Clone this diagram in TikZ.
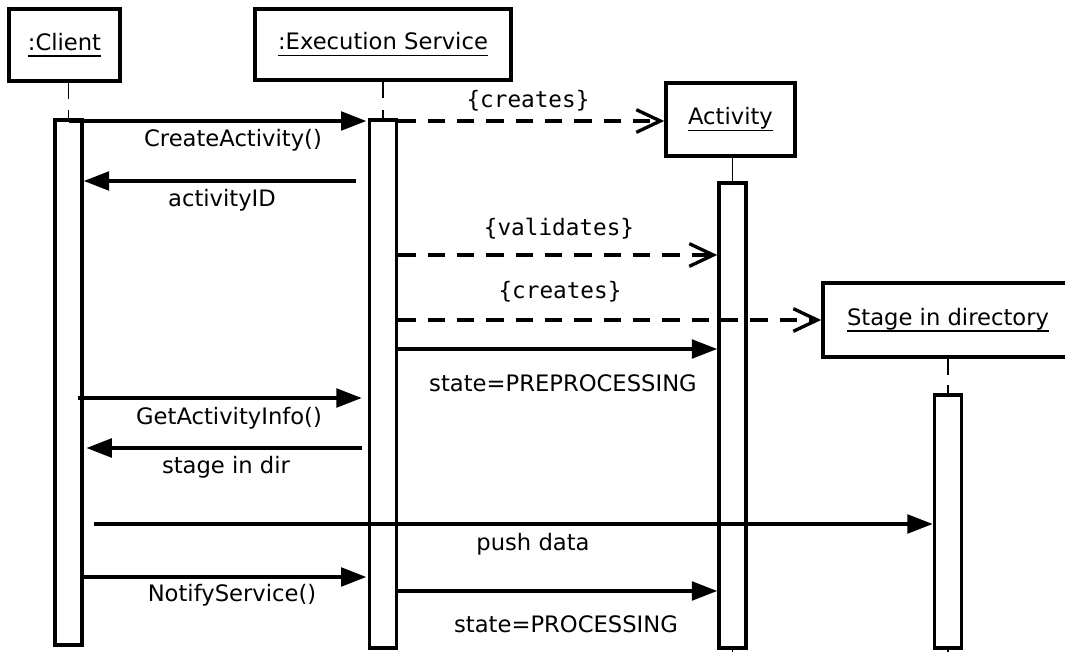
\documentclass[tikz,border=0pt]{standalone}
\usepackage{fontspec}
\setmainfont{DejaVu Sans}
\setmonofont{DejaVu Sans Mono}
\usetikzlibrary{arrows.meta}
\newcommand\ulbox[1]{\sbox0{#1}\rlap{\rule[-5pt]{\wd0}{1.2pt}}\usebox0}
\begin{document}
\begin{tikzpicture}[x=0.75pt,y=-0.75pt,
  font=\fontsize{17}{20}\selectfont,
  head/.style={draw, line width=2.7pt, inner sep=0pt, fill=white},
  bar/.style={draw, line width=2.7pt, inner sep=0pt, minimum width=20.25pt, fill=white},
  life/.style={line width=1.3pt},
  msg/.style={line width=2.5pt, -{Triangle[length=19pt,width=14pt]}},
  dep/.style={line width=2.5pt, dash pattern=on 13pt off 9pt, -{Straight Barb[length=18pt,width=17pt,line width=2.5pt]}},
  lbl/.style={inner sep=0pt},
  st/.style={font=\fontsize{17}{20}\selectfont\ttfamily, inner sep=0pt}]
\clip (0,0) rectangle (1065,652);
\fill[white] (0,0) rectangle (1065,652);

% heads
\node[head, minimum width=83.25pt, minimum height=54pt] (hC) at (64.5,45) {\ulbox{:Client}};
\node[head, minimum width=192pt, minimum height=53pt] (hE) at (383,44.5) {\ulbox{:Execution Service}};
\node[head, minimum width=96.75pt, minimum height=54.75pt] (hA) at (730.5,119.5) {\ulbox{Activity}};
\node[head, minimum width=187.5pt, minimum height=55.5pt] (hS) at (948,320) {\ulbox{Stage in directory}};

% activation bars
\node[bar, minimum height=393.75pt] (bC) at (68.5,382.5) {};
\node[bar, minimum height=396pt] (bE) at (383,384) {};
\node[bar, minimum height=348.75pt] (bA) at (732.5,415.5) {};
\node[bar, minimum height=189.75pt] (bS) at (948,521.5) {};

% lifeline ticks
\foreach \h/\b in {hC/bC, hE/bE, hA/bA, hS/bS}{
  \draw[life] (\b.north |- \h.south) -- ++(0,16);
  \draw[life] (\b.north) -- ++(0,-8);
}
\foreach \b in {bA, bS}{
  \draw[life] (\b.south) -- ++(0,8);
}

% message coordinates
\coordinate (m1s) at (bC.center |- 0,121);
\coordinate (m1e) at ([xshift=-1pt]bE.west |- 0,121);
\coordinate (m3s) at ([xshift=-8.5pt]bE.west |- 0,181);
\coordinate (m3e) at (bC.east |- 0,181);
\coordinate (m7s) at ([xshift=-4pt]bC.east |- 0,398);
\coordinate (m7e) at ([xshift=-4.5pt]bE.west |- 0,398);
\coordinate (m8s) at ([xshift=-4.5pt]bE.west |- 0,448);
\coordinate (m8e) at ([xshift=2pt]bC.east |- 0,448);
\coordinate (m9s) at ([xshift=8pt]bC.east |- 0,524);
\coordinate (m10s) at (bC.east |- 0,577);
\coordinate (m10e) at ([xshift=-1pt]bE.west |- 0,577);

% messages
\draw[msg] (m1s) -- (m1e);
\draw[dep] (bE.east |- 0,121) -- (hA.west |- 0,121);
\draw[msg] (m3s) -- (m3e);
\draw[dep] (bE.east |- 0,255) -- (bA.west |- 0,255);
\draw[dep] (bE.east |- 0,320) -- (hS.west |- 0,320);
\draw[msg] (bE.east |- 0,349) -- (bA.west |- 0,349);
\draw[msg] (m7s) -- (m7e);
\draw[msg] (m8s) -- (m8e);
\draw[msg] (m9s) -- (bS.west |- 0,524);
\draw[msg] (m10s) -- (m10e);
\draw[msg] (bE.east |- 0,591) -- (bA.west |- 0,591);

% labels
\node[lbl] (l1) at (233,140) {CreateActivity()};
\node[st] (l2) at (528,101) {\{creates\}};
\node[lbl] (l3) at (222,200) {activityID};
\node[st] (l4) at (559,229) {\{validates\}};
\node[st] (l5) at (560,292) {\{creates\}};
\node[lbl] (l6) at (563,383) {state=PREPROCESSING};
\node[lbl] (l7) at (229,418) {GetActivityInfo()};
\node[lbl] (l8) at (226,467) {stage in dir};
\node[lbl] (l9) at (533,544) {push data};
\node[lbl] (l10) at (232,595) {NotifyService()};
\node[lbl] (l11) at (566,624) {state=PROCESSING};
\end{tikzpicture}
\end{document}
